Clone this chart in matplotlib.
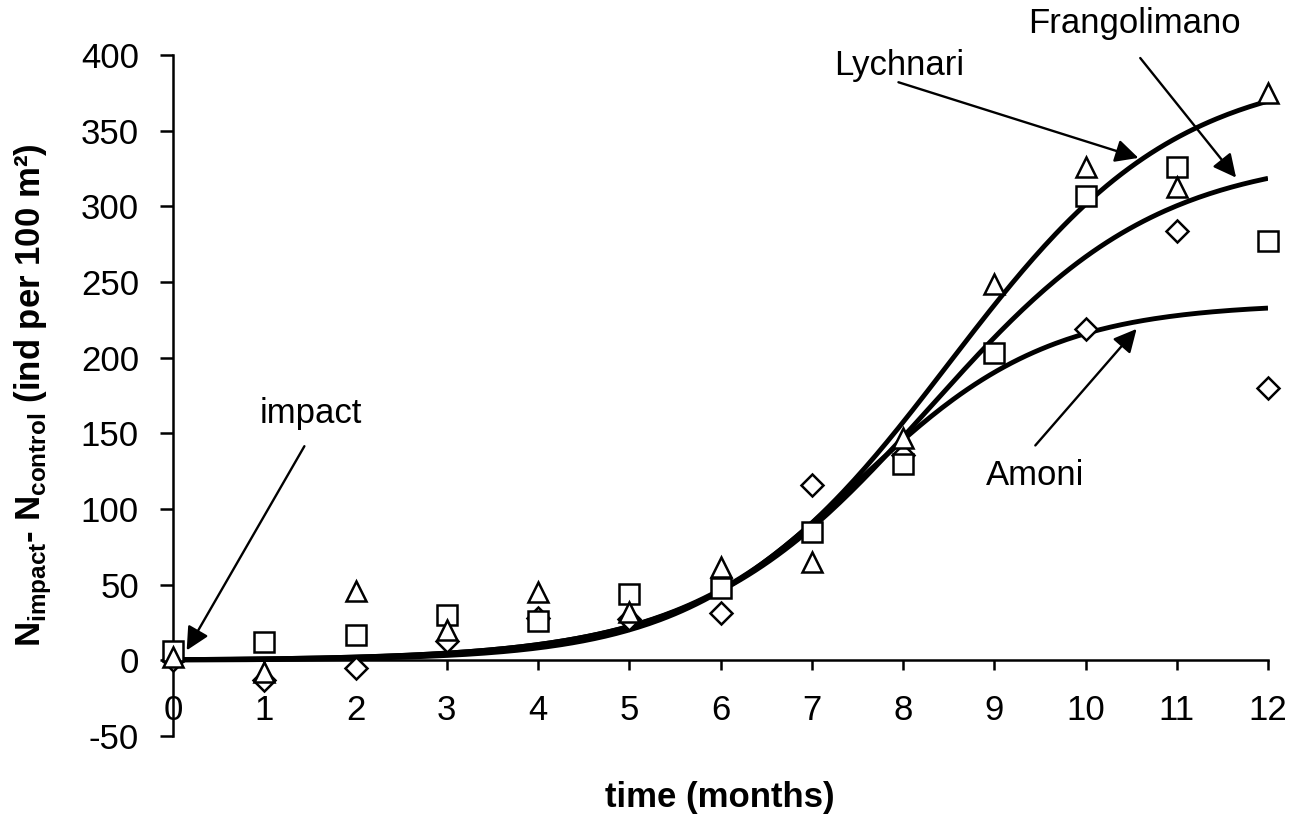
import numpy as np
import matplotlib
matplotlib.use('Agg')
import matplotlib.pyplot as plt

plt.rcParams['font.family'] = ['Liberation Sans', 'DejaVu Sans']
plt.rcParams['mathtext.fontset'] = 'custom'
plt.rcParams['mathtext.rm'] = 'Liberation Sans'
plt.rcParams['mathtext.bf'] = 'Liberation Sans:bold'
plt.rcParams['axes.unicode_minus'] = False

months = [0, 1, 2, 3, 4, 5, 6, 7, 8, 9, 10, 11, 12]
lychnari = [2, -8, 46, 20, 45, 32, 62, 65, 147, 249, 326, 313, 375]       # triangles
frangolimano = [6, 12, 17, 30, 26, 44, 48, 85, 130, 203, 307, 326, 277]  # squares
amoni = [0, -13, -5, 13, 28, 27, 31, 116, 136, np.nan, 219, 284, 180]    # diamonds

# logistic fits (K, r, t0) estimated from the drawn curves
fit_lychnari = [392, 0.80, 8.5]
fit_frangolimano = [335, 0.80, 8.3]
fit_amoni = [236, 0.95, 7.5]

W, H = 1297, 817
fig = plt.figure(figsize=(W / 100, H / 100), dpi=100)
ax = fig.add_axes([173 / W, (H - 736) / H, (1268 - 173) / W, (736 - 55) / H])

t = np.linspace(0, 12, 300)
for K, r, t0 in [fit_lychnari, fit_frangolimano, fit_amoni]:
    ax.plot(t, K / (1 + np.exp(-r * (t - t0))), color='black', lw=3.5, zorder=2,
            solid_capstyle='butt')

mk = dict(color='black', mfc='white', mec='black', mew=1.8, ls='none',
          clip_on=False, zorder=3)
ax.plot(months, amoni, marker='D', ms=11, **mk)
ax.plot(months, frangolimano, marker='s', ms=15, **mk)
ax.plot(months, lychnari, marker='^', ms=15, **mk)

ax.set_xlim(0, 12)
ax.set_ylim(-50, 400)
ax.set_xticks(months)
ax.set_yticks(np.arange(-50, 401, 50))
ax.spines['top'].set_visible(False)
ax.spines['right'].set_visible(False)
ax.spines['bottom'].set_position(('data', 0))
ax.spines['left'].set_linewidth(1.8)
ax.spines['bottom'].set_linewidth(1.8)
ax.tick_params(axis='x', direction='out', length=7, width=1.8, pad=17, labelsize=25)
ax.tick_params(axis='y', direction='out', length=9.5, width=1.8, pad=15, labelsize=25)

arw = dict(arrowstyle='-|>,head_length=0.7,head_width=0.35', color='black',
           lw=1.7, mutation_scale=20, shrinkA=0, shrinkB=0)
ax.annotate('', xy=(0.15, 6.6), xytext=(1.44, 141.5), arrowprops=arw, annotation_clip=False)
ax.text(1.51, 163, 'impact', fontsize=25, ha='center', va='center')
ax.annotate('', xy=(10.58, 332), xytext=(7.95, 382), arrowprops=arw, annotation_clip=False)
ax.text(7.96, 393, 'Lychnari', fontsize=25, ha='center', va='center')
ax.annotate('', xy=(11.65, 319), xytext=(10.6, 398), arrowprops=arw, annotation_clip=False)
ax.text(10.54, 420.5, 'Frangolimano', fontsize=25, ha='center', va='center')
ax.annotate('', xy=(10.56, 219), xytext=(9.45, 142), arrowprops=arw, annotation_clip=False)
ax.text(9.45, 122, 'Amoni', fontsize=25, ha='center', va='center')

fig.text(720 / W, 1 - 797 / H, 'time (months)', fontsize=25, fontweight='bold',
         ha='center', va='center')
fig.text(33 / W, 1 - 395 / H,
         r'N$_{\mathbf{impact}}$- N$_{\mathbf{control}}$ (ind per 100 m²)',
         fontsize=25, fontweight='bold', rotation=90, ha='center', va='center')

fig.savefig('out.png', dpi=100)
